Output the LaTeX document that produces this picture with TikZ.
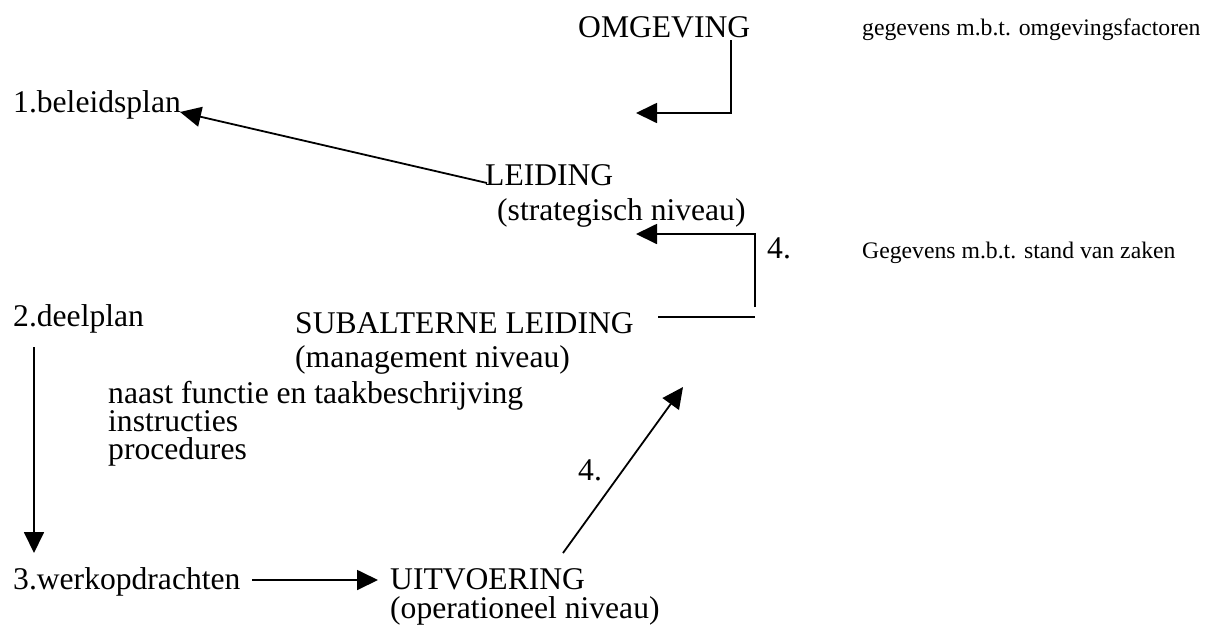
\documentclass[tikz,border=0pt]{standalone}
\usepackage{fontspec}
\setmainfont{Liberation Serif}
\usetikzlibrary{arrows.meta}
\begin{document}
\begin{tikzpicture}[x=1pt,y=-1pt,
  lbl/.style={inner sep=0pt,anchor=base west,font=\fontsize{31.6}{36}\selectfont},
  tight/.style={lbl,text height=20pt,text depth=5pt},
  small/.style={inner sep=0pt,anchor=base west,font=\fontsize{23.7}{28}\selectfont},
  conn/.style={line width=1.8pt},
  arr/.style={conn,-{Triangle[length=21pt,width=20pt]}}]
\useasboundingbox[fill=white] (0,0) rectangle (1211,630);
% texts
\node[lbl] (omg) at (578,37) {OMGEVING};
\node[small] (gomg) at (862,35) {gegevens m.b.t. omgevingsfactoren};
\node[lbl] (bel) at (13,112) {1.beleidsplan};
\node[lbl] (lei) at (485,185) {LEIDING};
\node[lbl] (str) at (497,220) {(strategisch niveau)};
\node[lbl] (vier1) at (767,258) {4.};
\node[small] (gstand) at (862,258) {Gegevens m.b.t. stand van zaken};
\node[lbl] (deel) at (13,326) {2.deelplan};
\node[lbl] (sub) at (295,333) {SUBALTERNE LEIDING};
\node[lbl] (man) at (295,367) {(management niveau)};
\node[tight] (naast) at (108,403) {naast functie en taakbeschrijving};
\node[tight] (instr) at (108,431) {instructies};
\node[tight] (proc) at (108,459) {procedures};
\node[lbl] (vier2) at (578,480) {4.};
\node[lbl] (werk) at (13,589) {3.werkopdrachten};
\node[lbl] (uit) at (390,589) {UITVOERING};
\node[lbl] (oper) at (390,618) {(operationeel niveau)};
% connector points
\coordinate (o1) at (731,40);
\coordinate (o2) at (731,113);
\coordinate (o3) at (636,113);
\coordinate (l1) at (487,183);
\coordinate (b1) at (180,112);
\coordinate (s1) at (755,307);
\coordinate (s2) at (755,234);
\coordinate (s3) at (636,234);
\coordinate (h1) at (658,317);
\coordinate (h2) at (755,317);
\coordinate (d1) at (34,347);
\coordinate (d2) at (34,553);
\coordinate (w1) at (252,580);
\coordinate (w2) at (378,580);
\coordinate (u1) at (563,553);
\coordinate (u2) at (683,387);
% connectors
\draw[arr] (o1) -- (o2) -- (o3);
\draw[arr] (l1) -- (b1);
\draw[arr] (s1) -- (s2) -- (s3);
\draw[conn] (h1) -- (h2);
\draw[arr] (d1) -- (d2);
\draw[arr] (w1) -- (w2);
\draw[arr] (u1) -- (u2);
\end{tikzpicture}
\end{document}
